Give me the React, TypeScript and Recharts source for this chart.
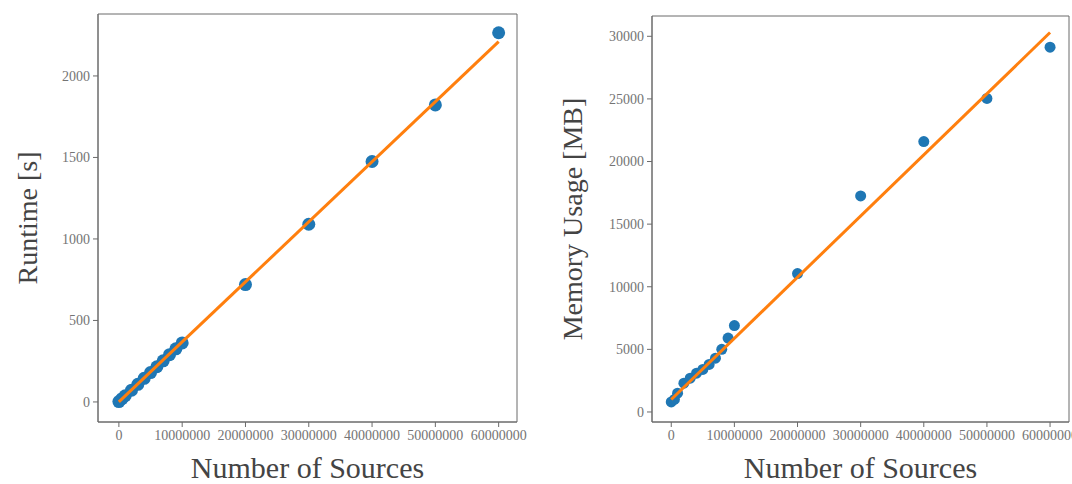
import { Label, ReferenceArea, Scatter, ScatterChart, XAxis, YAxis } from "recharts";

// Problem sizes (number of sources) shared by both panels.
const sources = [
	0, 500000, 1000000, 2000000, 3000000, 4000000, 5000000, 6000000, 7000000,
	8000000, 9000000, 10000000, 20000000, 30000000, 40000000, 50000000, 60000000,
];

// Measured runtime in seconds.
const runtime = [
	2, 20, 38, 72, 108, 145, 180, 216, 252, 290, 326, 362, 720, 1090, 1475,
	1822, 2265,
];

// Measured peak memory in MB.
const memory = [
	800, 1000, 1500, 2300, 2700, 3100, 3400, 3800, 4300, 5000, 5900, 6900, 11050,
	17250, 21590, 25040, 29130,
];

// Linear fit endpoints.
const fitX = [0, 60000000];
const runtimeFit = [0, 2210];
const memoryFit = [1000, 30300];

const xTicks = [0, 10000000, 20000000, 30000000, 40000000, 50000000, 60000000];
const runtimeTicks = [0, 500, 1000, 1500, 2000];
const memoryTicks = [0, 5000, 10000, 15000, 20000, 25000, 30000];

const BLUE = "#1f77b4";
const ORANGE = "#ff7f0e";
const FRAME = "#6a6a6a";
const FONT = "'Liberation Serif', 'DejaVu Serif', serif";

const toPoints = (xs: number[], ys: number[]) =>
	xs.map((x, i) => ({ x, y: ys[i] }));

const tickStyle = { fill: "#747474", fontSize: 14, fontFamily: FONT };
const labelStyle = { fill: "#444444", fontFamily: FONT, textAnchor: "middle" as const };

function Panel({
	values,
	fit,
	yTicks,
	yDomain,
	xDomain,
	yLabel,
	axisWidth,
	labelOffset,
	width,
	top,
	right,
	r,
}: {
	values: number[];
	fit: number[];
	yTicks: number[];
	yDomain: [number, number];
	xDomain: [number, number];
	yLabel: string;
	axisWidth: number;
	labelOffset: number;
	width: number;
	top: number;
	right: number;
	r: number;
}) {
	return (
		<ScatterChart width={width} height={484} margin={{ top, right, bottom: 0, left: 0 }}>
			<XAxis
				dataKey="x"
				type="number"
				domain={xDomain}
				ticks={xTicks}
				allowDataOverflow
				interval={0}
				height={62}
				tick={tickStyle}
				tickSize={5}
				tickMargin={3}
				tickLine={{ stroke: FRAME }}
				axisLine={{ stroke: FRAME }}
			>
				<Label
					value="Number of Sources"
					position="insideBottom"
					offset={6}
					style={{ ...labelStyle, fontSize: 30 }}
				/>
			</XAxis>
			<YAxis
				dataKey="y"
				type="number"
				domain={yDomain}
				ticks={yTicks}
				allowDataOverflow
				interval={0}
				width={axisWidth}
				tick={tickStyle}
				tickSize={5}
				tickMargin={3}
				tickLine={{ stroke: FRAME }}
				axisLine={{ stroke: FRAME }}
			>
				<Label
					value={yLabel}
					angle={-90}
					position="insideLeft"
					offset={labelOffset}
					style={{ ...labelStyle, fontSize: 28 }}
				/>
			</YAxis>
			{/* plot frame */}
			<ReferenceArea
				x1={xDomain[0]}
				x2={xDomain[1]}
				y1={yDomain[0]}
				y2={yDomain[1]}
				ifOverflow="visible"
				fill="none"
				stroke={FRAME}
				strokeWidth={1}
			/>
			<Scatter
				data={toPoints(sources, values)}
				isAnimationActive={false}
				shape={(p: any) => <circle cx={p.cx} cy={p.cy} r={r} fill={BLUE} />}
			/>
			<Scatter
				data={toPoints(fitX, fit)}
				isAnimationActive={false}
				line={{ stroke: ORANGE, strokeWidth: 3 }}
				lineType="joint"
				shape={() => <g />}
			/>
		</ScatterChart>
	);
}

export default function App() {
	return (
		<div
			style={{
				position: "absolute",
				left: 0,
				top: 0,
				width: 1072,
				height: 484,
				background: "#ffffff",
				overflow: "hidden",
			}}
		>
			<div style={{ position: "absolute", left: 0, top: 0 }}>
				<Panel
					values={runtime}
					fit={runtimeFit}
					yTicks={runtimeTicks}
					yDomain={[-123, 2380]}
					xDomain={[-3300000, 62900000]}
					yLabel="Runtime [s]"
					axisWidth={98}
					labelOffset={27}
					width={530}
					top={14}
					right={13}
					r={6.5}
				/>
			</div>
			<div style={{ position: "absolute", left: 536, top: 0 }}>
				<Panel
					values={memory}
					fit={memoryFit}
					yTicks={memoryTicks}
					yDomain={[-800, 31620]}
					xDomain={[-3050000, 63000000]}
					yLabel="Memory Usage [MB]"
					axisWidth={116}
					labelOffset={36}
					width={536}
					top={16}
					right={3}
					r={5.5}
				/>
			</div>
		</div>
	);
}
